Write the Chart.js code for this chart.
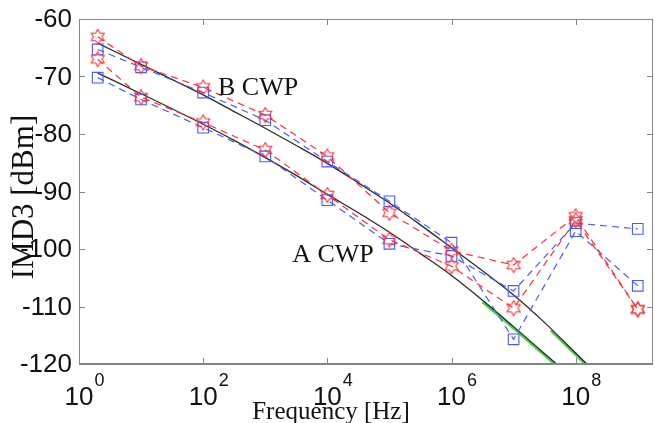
<!DOCTYPE html>
<html><head><meta charset="utf-8">
<script src="https://cdn.jsdelivr.net/npm/chart.js@4"></script>
<style>html,body{margin:0;padding:0;background:#fff}#wrap{width:655px;height:423px}</style>
</head><body><div id="wrap"><canvas id="c" width="655" height="423"></canvas></div>
<script>
// ---- data ----
const freqMeas = [2, 10, 100, 1e3, 1e4, 1e5, 1e6, 1e7, 1e8, 1e9];
const bRed  = [-63.1, -68.2, -71.9, -76.7, -83.9, -93.7, -100.3, -102.8, -94.3, -110.5];
const bBlue = [-65.3, -68.4, -72.8, -77.6, -84.8, -91.7, -98.9, -115.7, -96.9, -106.4];
const aRed  = [-67.0, -73.6, -78.0, -82.8, -90.6, -98.4, -103.0, -110.3, -95.0, -110.5];
const aBlue = [-70.2, -74.0, -78.9, -83.9, -91.5, -99.1, -101.2, -107.3, -95.5, -96.5];

const freqTheoryB = [2, 10, 100, 316, 1e3, 3.16e3, 1e4, 3.16e4, 1e5, 3.16e5, 1e6, 3.16e6, 1e7, 3.16e7, 1e8, 1.55e8, 2e8];
const theoryB     = [-64.2, -67.9, -73.2, -76.1, -79.0, -82.0, -85.1, -88.5, -92.0, -95.8, -99.8, -103.8, -108.0, -112.8, -118.1, -120.1, -121.3];
const freqTheoryA = [2, 10, 100, 316, 1e3, 3.16e3, 1e4, 3.16e4, 1e5, 3.16e5, 1e6, 3.16e6, 1e7, 3.16e7, 4.9e7, 6.3e7];
const theoryA     = [-69.4, -73.0, -78.3, -81.1, -84.1, -87.2, -90.5, -93.7, -97.1, -100.8, -104.6, -108.9, -113.5, -118.2, -120.0, -121.1];
const freqGreenA = [3.16e6, 1e7, 3.16e7, 4.9e7, 6.3e7];
const greenA     = [-109.2, -113.8, -118.5, -120.3, -121.4];
const freqGreenB = [3.98e7, 1e8, 1.55e8, 2e8];
const greenB     = [-114.2, -118.4, -120.4, -121.6];

const yTicks = [-60, -70, -80, -90, -100, -110, -120];
const xTickExp = [0, 2, 4, 6, 8];
const xTickBase = '10';
const yTitle = 'IMD3 [dBm]';
const xTitle = 'Frequency [Hz]';
const notes = [{text: 'B CWP', x: 173, y: -73.2}, {text: 'A CWP', x: 2710, y: -102.3}];

// ---- helpers ----
const RED = 'rgb(245,50,55)', BLUE = 'rgb(75,90,245)';
function pts(xs, ys){ return xs.map((x,i)=>({x:x, y:ys[i]})); }
function hexagram(color){
  const s = 20, c = document.createElement('canvas'); c.width = s; c.height = s;
  const g = c.getContext('2d'); g.strokeStyle = color; g.lineWidth = 1.1;
  const R = 7.5, r = R/Math.sqrt(3), cx = s/2, cy = s/2;
  g.beginPath();
  for (let i=0;i<12;i++){
    const a = -Math.PI/2 + i*Math.PI/6, rr = (i%2===0)?R:r;
    const px = cx + rr*Math.cos(a), py = cy + rr*Math.sin(a);
    if (i===0) g.moveTo(px,py); else g.lineTo(px,py);
  }
  g.closePath(); g.stroke();
  return c;
}
const starImg = hexagram(RED);

function measured(data, color, isStar){
  return {
    data: data, borderColor: color, borderWidth: 1.2, borderDash: [7,5],
    pointStyle: isStar ? starImg : 'rect', pointRadius: 7.5,
    pointBorderColor: color, pointBackgroundColor: 'rgba(0,0,0,0)', pointBorderWidth: 1.1,
    fill: false, tension: 0
  };
}
function smooth(data, color, w){
  return { data: data, borderColor: color, borderWidth: w, pointRadius: 0, fill:false,
           cubicInterpolationMode: 'monotone' };
}

const axesPlugin = {
  id: 'matlabAxes',
  afterDraw(chart){
    const ctx = chart.ctx, a = chart.chartArea, xs = chart.scales.x, ys = chart.scales.y;
    ctx.save();
    ctx.strokeStyle = '#858585'; ctx.lineWidth = 1;
    ctx.beginPath();
    ctx.moveTo(a.left+0.5, a.top+0.5); ctx.lineTo(a.right-0.5, a.top+0.5); ctx.lineTo(a.right-0.5, a.bottom);
    ctx.moveTo(a.left+0.5, a.top+0.5); ctx.lineTo(a.left+0.5, a.bottom);
    ctx.stroke();
    ctx.lineWidth = 2; ctx.beginPath(); ctx.moveTo(a.left, a.bottom); ctx.lineTo(a.right, a.bottom); ctx.stroke();
    ctx.lineWidth = 1;
    ctx.beginPath();
    yTicks.forEach(v=>{
      const py = Math.round(ys.getPixelForValue(v))+0.5;
      ctx.moveTo(a.left, py); ctx.lineTo(a.left+6, py);
      ctx.moveTo(a.right, py); ctx.lineTo(a.right-6, py);
    });
    xTickExp.forEach(e=>{
      const px = Math.round(xs.getPixelForValue(Math.pow(10,e)))+0.5;
      ctx.moveTo(px, a.bottom); ctx.lineTo(px, a.bottom-6);
      ctx.moveTo(px, a.top); ctx.lineTo(px, a.top+6);
    });
    ctx.stroke();
    // tick labels
    ctx.fillStyle = '#111';
    ctx.font = '26px "Liberation Sans", Arial, sans-serif';
    ctx.textAlign = 'right'; ctx.textBaseline = 'middle';
    yTicks.forEach(v=>{ ctx.fillText(String(v), a.left-7, ys.getPixelForValue(v)+1); });
    ctx.textBaseline = 'alphabetic';
    xTickExp.forEach(e=>{
      const px = xs.getPixelForValue(Math.pow(10,e));
      ctx.font = '26px "Liberation Sans", Arial, sans-serif';
      ctx.textAlign = 'center';
      const w = ctx.measureText(xTickBase).width;
      ctx.fillText(xTickBase, px, a.bottom+41);
      ctx.font = '18px "Liberation Sans", Arial, sans-serif';
      ctx.textAlign = 'left';
      ctx.fillText(String(e), px + w/2 + 1, a.bottom+22);
    });
    // titles
    ctx.font = '25px "Liberation Serif", "Times New Roman", serif';
    ctx.textAlign = 'center';
    ctx.fillText(xTitle, 331, a.bottom+55);
    ctx.save();
    ctx.translate(33, 197);
    ctx.rotate(-Math.PI/2);
    ctx.font = '31px "Liberation Serif", "Times New Roman", serif';
    ctx.textBaseline = 'alphabetic';
    ctx.fillText(yTitle, 0, 0);
    ctx.restore();
    // annotations
    ctx.font = '26px "Liberation Serif", "Times New Roman", serif';
    ctx.textAlign = 'left';
    notes.forEach(n=>{ ctx.fillText(n.text, xs.getPixelForValue(n.x), ys.getPixelForValue(n.y)); });
    ctx.restore();
  }
};

new Chart(document.getElementById('c'), {
  type: 'line',
  data: { datasets: [
    measured(pts(freqMeas, bRed), RED, true),
    measured(pts(freqMeas, aRed), RED, true),
    measured(pts(freqMeas, bBlue), BLUE, false),
    measured(pts(freqMeas, aBlue), BLUE, false),
    smooth(pts(freqTheoryB, theoryB), '#2a2a2a', 1.3),
    smooth(pts(freqTheoryA, theoryA), '#2a2a2a', 1.3),
    smooth(pts(freqGreenB, greenB), 'rgb(70,210,70)', 2.6),
    smooth(pts(freqGreenA, greenA), 'rgb(70,210,70)', 2.6)
  ]},
  options: {
    responsive: false, animation: false, devicePixelRatio: 1,
    layout: { autoPadding: false, padding: { left: 79, top: 19, right: 2, bottom: 59 } },
    plugins: { legend: { display: false }, tooltip: { enabled: false } },
    scales: {
      x: { type: 'logarithmic', min: 1, max: 1.76e9, display: false },
      y: { type: 'linear', min: -120, max: -60, display: false }
    }
  },
  plugins: [axesPlugin]
});
</script>
</body></html>
